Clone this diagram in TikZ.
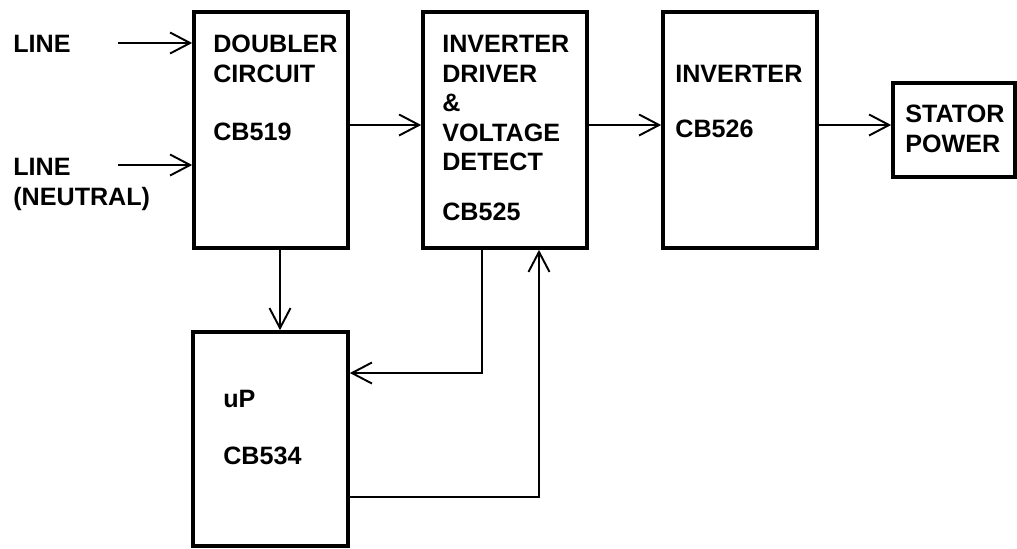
\documentclass[tikz,border=0pt]{standalone}
\usepackage{fontspec}
\setsansfont{Liberation Sans}
\usetikzlibrary{arrows.meta,calc,positioning}

\begin{document}
\begin{tikzpicture}[
    x=0.02cm,y=-0.02cm,
    font=\fontsize{14.3pt}{16.8pt}\selectfont\sffamily\bfseries,
    box/.style={draw,line width=2.1pt,inner sep=0pt},
    lbl/.style={anchor=north west,inner sep=0pt,align=left},
    arr/.style={-{Straight Barb[length=0.4cm,width=0.42cm]},line width=1.1pt}
  ]
    \useasboundingbox (0,0) rectangle (1017,548);

    \node[box,minimum width=3.08cm,minimum height=4.72cm] (doubler) at (271,130) {};
    \node[box,minimum width=3.28cm,minimum height=4.72cm] (driver) at (505,130) {};
    \node[box,minimum width=3.08cm,minimum height=4.72cm] (inverter) at (740,130) {};
    \node[box,minimum width=2.44cm,minimum height=1.88cm] (stator) at (954,130) {};
    \node[box,minimum width=3.10cm,minimum height=4.28cm] (uP) at (270.5,439) {};

    \node[lbl] (doublerTxt) at (213,35) {DOUBLER\\CIRCUIT\\[0.58cm]CB519};
    \node[lbl] (driverTxt) at (442,35) {INVERTER\\DRIVER\\\&\\VOLTAGE\\DETECT\\[0.4cm]CB525};
    \node[lbl] (inverterTxt) at (675,65) {INVERTER\\[0.5cm]CB526};
    \node[lbl] (statorTxt) at (905,105) {STATOR\\POWER};
    \node[lbl] (uPTxt) at (223,390) {uP\\[0.54cm]CB534};
    \node[lbl] (lineTxt) at (13,35) {LINE};
    \node[lbl] (neutralTxt) at (13,158) {LINE\\(NEUTRAL)};

    \coordinate (lineIn) at (118,43);
    \coordinate (neutralIn) at (118,165);

    \draw[arr] (lineIn) -- (lineIn -| doubler.west);
    \draw[arr] (neutralIn) -- (neutralIn -| doubler.west);
    \draw[arr] ([yshift=0.1cm]doubler.east) -- ([yshift=0.1cm]driver.west);
    \draw[arr] ([yshift=0.1cm]driver.east) -- ([yshift=0.1cm]inverter.west);
    \draw[arr] ([yshift=0.1cm]inverter.east) -- ([yshift=0.1cm]stator.west);
    \draw[arr] ([xshift=0.18cm]doubler.south) -- ([xshift=0.18cm]doubler.south |- uP.north);
    \draw[arr] ([xshift=-0.46cm]driver.south) |- ([yshift=1.32cm]uP.east);
    \draw[arr] ([yshift=-1.16cm]uP.east) -| ([xshift=0.68cm]driver.south);
  \end{tikzpicture}
\end{document}
